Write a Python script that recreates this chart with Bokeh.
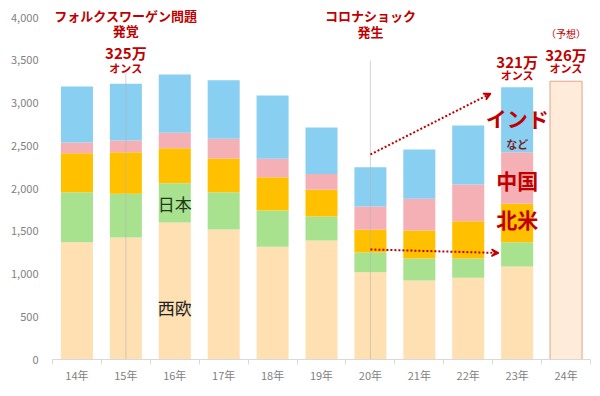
from bokeh.plotting import figure
from bokeh.models import (ColumnDataSource, Range1d, FixedTicker, NumeralTickFormatter,
                          Arrow, VeeHead)
from bokeh.core.properties import value
from bokeh.embed import file_html
from bokeh.resources import INLINE

years = ["14年", "15年", "16年", "17年", "18年", "19年", "20年", "21年", "22年", "23年", "24年"]
# thousand ounces, stacked from bottom
west_europe = [1372, 1427, 1602, 1520, 1318, 1392, 1021, 924, 955, 1088]
japan = [585, 511, 460, 437, 425, 281, 230, 257, 226, 284]
north_america = [456, 487, 409, 394, 389, 312, 266, 328, 437, 449]
china = [125, 136, 180, 230, 215, 186, 272, 370, 429, 604]
india_etc = [655, 663, 682, 686, 741, 542, 460, 577, 690, 760]
forecast_24 = 3255

series = ["west_europe", "japan", "north_america", "china", "india_etc"]
colors = ["#FFE0B3", "#A9E28F", "#FFC000", "#F5B0B6", "#89CFF2"]

FONT = value("Noto Sans CJK JP")
RED = "#C00000"

n = len(years)
xs = [i + 0.5 for i in range(n - 1)]
src = ColumnDataSource(dict(x=xs, west_europe=west_europe, japan=japan,
                            north_america=north_america, china=china, india_etc=india_etc))

p = figure(width=592, height=392, output_backend="svg", toolbar_location=None,
           x_range=Range1d(0, n), y_range=Range1d(0, 4199),
           min_border_left=52, min_border_right=2, min_border_top=0, min_border_bottom=33)
p.outline_line_color = None
p.grid.visible = False
p.background_fill_color = "white"

p.vbar_stack(series, x="x", width=0.655, color=colors, line_color=None, source=src)
p.vbar(x=[n - 0.5], top=[forecast_24], width=0.655, fill_color="#FEEBD9",
       line_color="#E3A48C", line_width=1)

# event marker lines (15年 VW, 20年 Corona)
p.segment(x0=[1.5, 6.5], y0=[0, 0], x1=[1.5, 6.5], y1=[3357, 3497],
          line_color="#B0B0B0", line_width=1, line_alpha=0.55)

# axes
p.yaxis.ticker = FixedTicker(ticks=list(range(0, 4001, 500)))
p.yaxis.formatter = NumeralTickFormatter(format="0,0")
p.yaxis.axis_line_color = None
p.yaxis.major_tick_line_color = None
p.yaxis.minor_tick_line_color = None
p.yaxis.major_tick_out = 0
p.yaxis.major_tick_in = 0
p.yaxis.major_label_standoff = 14
p.yaxis.major_label_text_color = "#7F7F7F"
p.yaxis.major_label_text_font_size = "11px"
p.yaxis.major_label_text_font = "Noto Sans CJK JP"

p.xaxis.ticker = FixedTicker(ticks=[i + 0.5 for i in range(n)],
                             minor_ticks=list(range(n + 1)))
p.xaxis.major_label_overrides = {i + 0.5: years[i] for i in range(n)}
p.xaxis.axis_line_color = "#D9D9D9"
p.xaxis.major_tick_line_color = None
p.xaxis.major_tick_out = 0
p.xaxis.major_tick_in = 0
p.xaxis.minor_tick_line_color = "#D9D9D9"
p.xaxis.minor_tick_out = 5
p.xaxis.minor_tick_in = 0
p.xaxis.major_label_standoff = 2
p.xaxis.major_label_text_color = "#7F7F7F"
p.xaxis.major_label_text_font_size = "11px"
p.xaxis.major_label_text_font = "Noto Sans CJK JP"

def txt(x, y, s, size, color=RED, bold=True):
    p.text(x=[x], y=[y], text=[s], text_font=FONT, text_font_size=size,
           text_color=color, text_align="center", text_baseline="middle",
           text_font_style="bold" if bold else "normal")

# top annotations
txt(1.5, 4023, "フォルクスワーゲン問題", "13px")
txt(1.5, 3848, "発覚", "13px")
txt(1.5, 3590, "325万", "15px")
txt(1.5, 3415, "オンス", "11px")
txt(6.5, 4023, "コロナショック", "13px")
txt(6.5, 3836, "発生", "13px")
txt(9.5, 3484, "321万", "15px")
txt(9.5, 3322, "オンス", "11px")
txt(10.5, 3813, "（予想）", "10px", bold=False)
txt(10.5, 3567, "326万", "15px")
txt(10.5, 3404, "オンス", "11px")

# region labels
txt(9.5, 2819, "インド", "21px")
txt(9.5, 2526, "など", "11px", color="#7A1F1F")
txt(9.5, 2094, "中国", "21px")
txt(9.5, 1649, "北米", "21px")
txt(2.5, 1825, "日本", "17px", color="#1E3A1E", bold=False)
txt(2.5, 608, "西欧", "17px", color="#222222", bold=False)

# dotted arrows
for (x0, y0, x1, y1) in [(6.5, 2398, 8.96, 3111), (6.5, 1287, 9.12, 1246)]:
    p.add_layout(Arrow(x_start=x0, y_start=y0, x_end=x1, y_end=y1,
                       line_color=RED, line_width=2, line_dash="2 2",
                       end=VeeHead(size=7, line_color=RED, fill_color=RED, line_width=1.5)))

open("out.html", "w").write(file_html(p, INLINE))
